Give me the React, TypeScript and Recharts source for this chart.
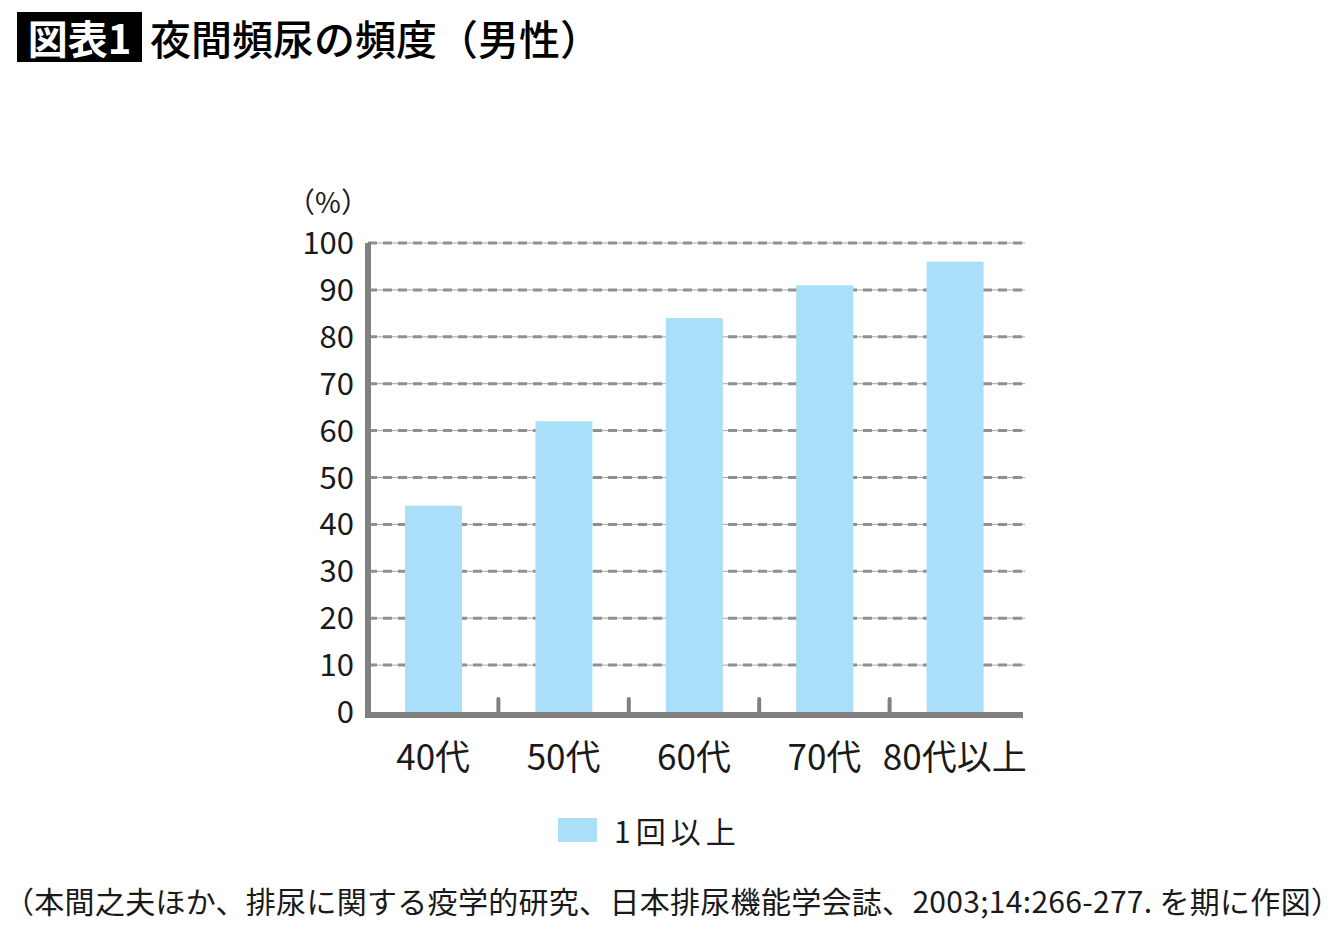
import { BarChart, Bar, XAxis, YAxis, CartesianGrid, Legend } from 'recharts';

const ageGroups = ['40代', '50代', '60代', '70代', '80代以上'];
const onceOrMore = [44, 62, 84, 91, 96];
const yTicks = [0, 10, 20, 30, 40, 50, 60, 70, 80, 90, 100];
const seriesName = '1回以上';
const titleTag = '図表1';
const titleText = '夜間頻尿の頻度（男性）';
const unitLabel = '（%）';
const sourceNote = '（本間之夫ほか、排尿に関する疫学的研究、日本排尿機能学会誌、2003;14:266-277. を期に作図）';

const data = ageGroups.map((age, i) => ({ age, value: onceOrMore[i] }));

const FONT = '"Noto Sans CJK JP", "Noto Sans", sans-serif';
const AXIS = '#808080';
const BAR = '#a9dff8';

const GridLine = (props: any) => {
  const { x1, x2, y1, index } = props;
  return (
    <g key={`grid-${index}`}>
      <line x1={x1} x2={x2 + 5} y1={y1} y2={y1} stroke="#a6a6a6" strokeWidth={1} />
      <line x1={x1} x2={x2 + 5} y1={y1} y2={y1} stroke="#909090" strokeWidth={3} strokeDasharray="9 6" />
    </g>
  );
};

const AgeTick = (props: any) => {
  const { x, y, payload, index } = props;
  const half = payload?.offset ?? 65;
  return (
    <g>
      {index < ageGroups.length - 1 && (
        <line x1={x + half} x2={x + half} y1={y - 13} y2={y} stroke={AXIS} strokeWidth={4} strokeLinecap="round" />
      )}
      <text x={x} y={y + 42} textAnchor="middle" dominantBaseline="central" fill="#1a1a1a" fontSize={35} fontFamily={FONT}>
        {payload.value}
      </text>
    </g>
  );
};

const LegendBox = () => (
  <div style={{ display: 'flex', alignItems: 'center', fontFamily: FONT }}>
    <span style={{ display: 'inline-block', width: 39, height: 24, background: BAR }} />
    <span style={{ marginLeft: 17, fontSize: 30, letterSpacing: 5, color: '#1a1a1a', lineHeight: '36px' }}>
      {seriesName}
    </span>
  </div>
);

export default function App() {
  return (
    <div style={{ position: 'absolute', left: 0, top: 0, width: 1340, height: 930, background: '#fff', fontFamily: FONT }}>
      <div
        style={{
          position: 'absolute', left: 17, top: 12, width: 125, height: 50,
          background: '#000', color: '#fff', fontSize: 40, fontWeight: 'bold',
          lineHeight: '50px', textAlign: 'center',
        }}
      >
        {titleTag}
      </div>
      <div style={{ position: 'absolute', left: 150, top: 12, height: 50, fontSize: 41, fontWeight: 500, lineHeight: '50px', color: '#000', whiteSpace: 'nowrap' }}>
        {titleText}
      </div>

      <div style={{ position: 'absolute', left: 0, top: 0 }}>
        <BarChart width={1340} height={930} data={data} margin={{ top: 243, right: 320, bottom: 158, left: 288 }}>
          <CartesianGrid
            vertical={false}
            horizontalValues={yTicks.filter((v) => v > 0)}
            horizontal={GridLine}
          />
          <Bar dataKey="value" name={seriesName} fill={BAR} barSize={57} isAnimationActive={false} />
          <XAxis
            dataKey="age"
            height={60}
            interval={0}
            tickLine={false}
            tickSize={0}
            tickMargin={0}
            axisLine={{ stroke: AXIS, strokeWidth: 6, strokeLinecap: 'square', transform: 'translate(0,3)' }}
            tick={<AgeTick />}
          />
          <YAxis
            width={80}
            domain={[0, 100]}
            ticks={yTicks}
            interval={0}
            tickLine={false}
            tickSize={0}
            tickMargin={14}
            axisLine={{ stroke: AXIS, strokeWidth: 6 }}
            tick={{ fill: '#1a1a1a', fontSize: 31, fontFamily: FONT }}
            label={{ value: unitLabel, position: 'top', offset: 30, fill: '#1a1a1a', fontSize: 28, fontFamily: FONT }}
          />
          <Legend
            verticalAlign="middle"
            align="center"
            wrapperStyle={{ left: 558, top: 812, width: 300 }}
            content={<LegendBox />}
          />
        </BarChart>
      </div>

      <div style={{ position: 'absolute', left: 4, top: 880, fontSize: 30, letterSpacing: 0.3, lineHeight: '40px', color: '#1a1a1a', whiteSpace: 'nowrap' }}>
        {sourceNote}
      </div>
    </div>
  );
}
